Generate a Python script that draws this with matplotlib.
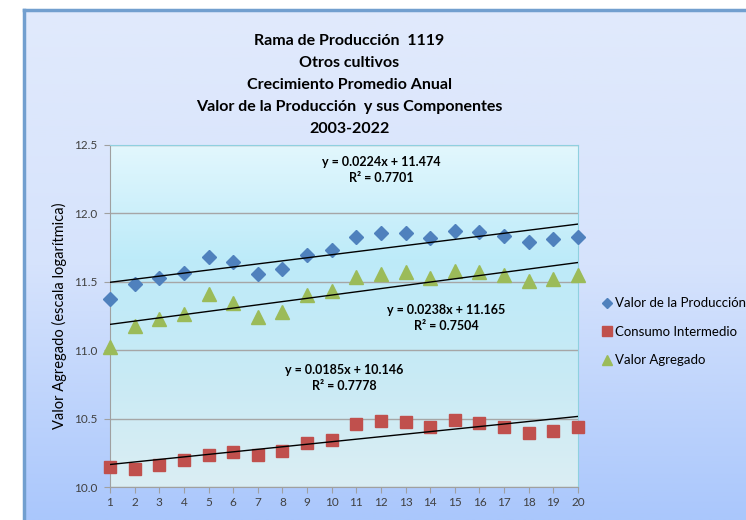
import matplotlib.pyplot as plt
import numpy as np
from matplotlib.colors import LinearSegmentedColormap
from matplotlib.lines import Line2D

plt.rcParams['font.family'] = ['Lato', 'DejaVu Sans']

anios = list(range(1, 21))
valor_produccion = [11.375, 11.483, 11.530, 11.563, 11.680, 11.642, 11.558, 11.590, 11.695, 11.730,
                    11.830, 11.856, 11.860, 11.822, 11.873, 11.863, 11.837, 11.790, 11.810, 11.830]
consumo_intermedio = [10.149, 10.129, 10.159, 10.195, 10.234, 10.258, 10.232, 10.266, 10.320, 10.347,
                      10.459, 10.481, 10.473, 10.439, 10.488, 10.466, 10.441, 10.397, 10.412, 10.437]
valor_agregado = [11.026, 11.180, 11.229, 11.265, 11.410, 11.344, 11.246, 11.282, 11.404, 11.435,
                  11.536, 11.555, 11.568, 11.529, 11.577, 11.572, 11.548, 11.507, 11.524, 11.548]

series = ['Valor de la Producción', 'Consumo Intermedio', 'Valor Agregado']
pendientes = [0.0224, 0.0185, 0.0238]
intercepts = [11.474, 10.146, 11.165]
r2 = [0.7701, 0.7778, 0.7504]

fig = plt.figure(figsize=(7.46, 5.2), dpi=100)
fig.patch.set_facecolor('white')

# fondo del grafico (degradado)
bg = fig.add_axes([24/746, 0, 1 - 24/746, 1 - 10/520], zorder=-10)
cm_bg = LinearSegmentedColormap.from_list('bg', ['#aac7fc', '#d6e3fc', '#e1eafc'])
bg.imshow(np.linspace(0, 1, 256).reshape(-1, 1), aspect='auto', cmap=cm_bg,
          extent=[0, 1, 0, 1], origin='lower')
bg.set_xticks([])
bg.set_yticks([])
for s in ['right', 'bottom']:
    bg.spines[s].set_visible(False)
for s in ['left', 'top']:
    bg.spines[s].set_color('#729fcf')
    bg.spines[s].set_linewidth(2.5)

ax = fig.add_axes([110/746, 1 - 487/520, 468/746, 342/520])
# degradado del area de trazado: abajo -> arriba
cm_pa = LinearSegmentedColormap.from_list('pa', ['#dbeef3', '#c8eaf5', '#bdebf9', '#e2f7fd'])
ax.imshow(np.linspace(0, 1, 256).reshape(-1, 1), aspect='auto', cmap=cm_pa,
          extent=[1, 20, 10.0, 12.5], origin='lower', zorder=0)

ax.set_xlim(1, 20)
ax.set_ylim(10.0, 12.5)
ax.set_yticks(np.arange(10.0, 12.51, 0.5))
ax.set_xticks(anios)
ax.yaxis.grid(True, color='#a6a6a6', linewidth=1)
ax.set_axisbelow(True)
ax.tick_params(colors='#404040', labelsize=8.5, length=4, color='#a0a0a0')
ax.tick_params(axis='y', pad=5)
ax.set_yticklabels(['%.1f' % v for v in np.arange(10.0, 12.51, 0.5)])
for s in ['left', 'bottom']:
    ax.spines[s].set_color('#a0a0a0')
ax.spines['top'].set_color('#8fd0df')
ax.spines['right'].set_color('#8fd0df')

xs = np.array(anios)
ax.plot(xs, valor_produccion, 'D', color='#4f81bd', ms=7.5, clip_on=False, zorder=4)
ax.plot(xs, consumo_intermedio, 's', color='#c0504d', ms=8.5, clip_on=False, zorder=4)
ax.plot(xs, valor_agregado, '^', color='#9bbb59', ms=10, clip_on=False, zorder=4)

for m, b in zip(pendientes, intercepts):
    ax.plot(xs, m * xs + b, color='black', linewidth=1, zorder=5)

pos = [(12.0, 12.317), (10.5, 10.80), (14.64, 11.237)]
for (px, py), m, b, r in zip(pos, pendientes, intercepts, r2):
    ax.text(px, py, 'y = %.4fx + %.3f\nR² = %.4f' % (m, b, r), ha='center', va='center',
            fontsize=9, fontweight='bold', color='black', linespacing=1.4, zorder=6)

ax.set_ylabel('Valor Agregado (escala logarítmica)', fontsize=10.5, color='black',
              family=['Liberation Sans Narrow', 'Lato'])
ax.yaxis.set_label_coords(-0.092, 0.5)

fig.text(0.468, 1 - 85/520,
         'Rama de Producción  1119\nOtros cultivos\nCrecimiento Promedio Anual\n'
         'Valor de la Producción  y sus Componentes\n2003-2022',
         ha='center', va='center', fontsize=11.5, fontweight='bold', linespacing=1.72)

handles = [Line2D([], [], marker='D', color='#4f81bd', ls='', ms=5.5),
           Line2D([], [], marker='s', color='#c0504d', ls='', ms=7),
           Line2D([], [], marker='^', color='#9bbb59', ls='', ms=7.5)]
fig.legend(handles, series, loc='upper left', bbox_to_anchor=(595/746, 1 - 292/520),
           frameon=False, fontsize=9.5, handletextpad=0.1, handlelength=1.0,
           labelspacing=1.25, borderaxespad=0)

fig.savefig('out.png', dpi=100)
